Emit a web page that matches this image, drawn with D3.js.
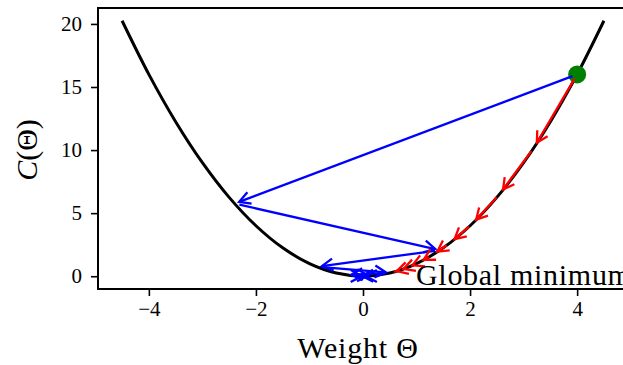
<!DOCTYPE html>
<html>
<head>
<meta charset="utf-8">
<script src="https://cdn.jsdelivr.net/npm/d3@7"></script>
<style>
  html, body { margin: 0; padding: 0; background: #fff; }
  svg { display: block; }
  text { font-family: "Liberation Serif", "DejaVu Serif", serif; fill: #000; }
</style>
</head>
<body>
<svg id="chart" width="623" height="365"></svg>
<script>
// ---- data ----
const curveTheta = [-4.5,-4,-3.5,-3,-2.5,-2,-1.5,-1,-0.5,0,0.5,1,1.5,2,2.5,3,3.5,4,4.5];
const curveCost  = [20.25,16,12.25,9,6.25,4,2.25,1,0.25,0,0.25,1,2.25,4,6.25,9,12.25,16,20.25];

// small learning rate path (red)
const redTheta = [4, 3.2, 2.56, 2.05, 1.64, 1.31, 1.05, 0.84, 0.67, 0.54];
const redCost  = [16, 10.24, 6.55, 4.19, 2.68, 1.72, 1.10, 0.70, 0.45, 0.29];

// large learning rate path (blue)
const blueTheta = [4, -2.4, 1.44, -0.86, 0.52, -0.31, 0.19, -0.11, 0.07, -0.04];
const blueCost  = [16, 5.76, 2.07, 0.75, 0.27, 0.10, 0.035, 0.013, 0.005, 0.002];

const startPoint = {theta: 4, cost: 16};
const xTicks = [-4, -2, 0, 2, 4];
const yTicks = [0, 5, 10, 15, 20];
const xDomain = [-4.95, 4.95];
const yDomain = [-1.0125, 21.2625];
const annotationText = "Global minimum";
const annotationAt = {theta: 0.99, cost: -0.72};

// ---- layout ----
const svg = d3.select("#chart");
const mLeft = 98, mRight = 628, mTop = 8, mBottom = 289;

const x = d3.scaleLinear().domain(xDomain).range([mLeft, mRight]);
const y = d3.scaleLinear().domain(yDomain).range([mBottom, mTop]);

// curve
const line = d3.line()
  .x((d, i) => x(curveTheta[i]))
  .y((d, i) => y(curveCost[i]))
  .curve(d3.curveCatmullRom.alpha(0.5));
svg.append("path")
  .attr("d", line(curveTheta))
  .attr("fill", "none")
  .attr("stroke", "#000")
  .attr("stroke-width", 3);

// start point
svg.append("circle")
  .attr("cx", x(startPoint.theta))
  .attr("cy", y(startPoint.cost))
  .attr("r", 9)
  .attr("fill", "#008000");

// arrows
function drawArrows(thetas, costs, color) {
  const g = svg.append("g");
  const shrinkA = 5, shrinkB = 5, headLen = 11, headHalf = 6;
  for (let i = 0; i < thetas.length - 1; i++) {
    const x0 = x(thetas[i]), y0 = y(costs[i]);
    const x1 = x(thetas[i + 1]), y1 = y(costs[i + 1]);
    const dx = x1 - x0, dy = y1 - y0;
    const L = Math.hypot(dx, dy);
    const ux = dx / L, uy = dy / L;
    const sx = x0 + ux * shrinkA, sy = y0 + uy * shrinkA;
    const ex = x1 - ux * shrinkB, ey = y1 - uy * shrinkB;
    g.append("path")
      .attr("d", `M${sx},${sy}L${ex},${ey}`)
      .attr("stroke", color).attr("stroke-width", 2.3).attr("fill", "none");
    const bx = ex - ux * headLen, by = ey - uy * headLen;
    const px = -uy, py = ux;
    g.append("path")
      .attr("d", `M${bx + px * headHalf},${by + py * headHalf}L${ex},${ey}L${bx - px * headHalf},${by - py * headHalf}`)
      .attr("stroke", color).attr("stroke-width", 2.3).attr("fill", "none")
      .attr("stroke-linejoin", "miter");
  }
}
drawArrows(blueTheta, blueCost, "#0000ff");
drawArrows(redTheta, redCost, "#ff0000");

// spines
svg.append("line").attr("x1", mLeft).attr("x2", mLeft).attr("y1", mTop).attr("y2", mBottom + 1)
  .attr("stroke", "#000").attr("stroke-width", 2);
svg.append("line").attr("x1", mLeft - 1).attr("x2", mRight).attr("y1", mBottom).attr("y2", mBottom)
  .attr("stroke", "#000").attr("stroke-width", 2);
svg.append("line").attr("x1", mLeft - 1).attr("x2", mRight).attr("y1", mTop).attr("y2", mTop)
  .attr("stroke", "#000").attr("stroke-width", 2);

// axes
const xAxis = d3.axisBottom(x).tickValues(xTicks).tickSize(7).tickPadding(5)
  .tickFormat(d => d < 0 ? "\u2212" + Math.abs(d) : String(d));
const gx = svg.append("g").attr("transform", `translate(0,${mBottom})`).call(xAxis);
gx.select(".domain").remove();
gx.selectAll(".tick line").attr("stroke", "#000").attr("stroke-width", 1.6);
gx.selectAll(".tick text").attr("font-size", 21).attr("font-family", "Liberation Serif").attr("fill", "#000");

const yAxis = d3.axisLeft(y).tickValues(yTicks).tickSize(7).tickPadding(9);
const gy = svg.append("g").attr("transform", `translate(${mLeft},0)`).call(yAxis);
gy.select(".domain").remove();
gy.selectAll(".tick line").attr("stroke", "#000").attr("stroke-width", 1.6);
gy.selectAll(".tick text").attr("font-size", 21).attr("font-family", "Liberation Serif").attr("fill", "#000");

// axis labels
svg.append("text")
  .attr("x", 358).attr("y", 358)
  .attr("text-anchor", "middle").attr("font-size", 30)
  .attr("letter-spacing", 0.8)
  .text("Weight \u0398");

const yl = svg.append("text")
  .attr("transform", "translate(37,150) rotate(-90)")
  .attr("text-anchor", "middle").attr("font-size", 30);
yl.append("tspan").attr("font-style", "italic").text("C");
yl.append("tspan").text("(\u0398)");

// annotation
svg.append("text")
  .attr("x", x(annotationAt.theta)).attr("y", y(annotationAt.cost))
  .attr("font-size", 30)
  .attr("letter-spacing", 0.7)
  .text(annotationText);
</script>
</body>
</html>
